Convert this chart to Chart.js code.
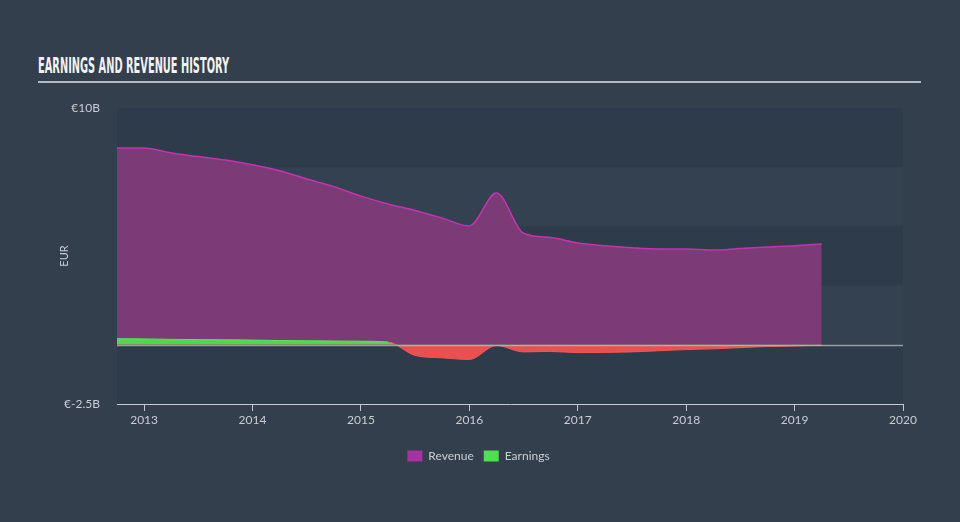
<!DOCTYPE html>
<html>
<head>
<meta charset="utf-8">
<script src="https://cdn.jsdelivr.net/npm/chart.js@4/dist/chart.umd.min.js"></script>
<style>
  html, body { margin: 0; padding: 0; background: #343f4d; }
  #wrap { position: relative; width: 960px; height: 522px; overflow: hidden; }
  #title {
    position: absolute; left: 38px; top: 54px;
    font-family: "Liberation Sans Narrow", "DejaVu Sans Condensed", sans-serif;
    font-weight: bold; font-size: 21px; color: #f2f2f2; white-space: nowrap;
    transform-origin: left top; letter-spacing: 0;
  }
  #rule { position: absolute; left: 38px; top: 81px; width: 883px; height: 2px; background: #b4b8c0; }
  canvas { position: absolute; left: 0; top: 0; }
</style>
</head>
<body>
<div id="wrap">
  <div id="title">EARNINGS AND REVENUE HISTORY</div>
  <div id="rule"></div>
  <canvas id="chart" width="960" height="522"></canvas>
</div>
<script>
// quarterly reporting dates (decimal years)
const dates = [2012.75, 2013, 2013.25, 2013.5, 2013.75, 2014, 2014.25, 2014.5, 2014.75,
               2015, 2015.25, 2015.5, 2015.75, 2016, 2016.25, 2016.5, 2016.75,
               2017, 2017.25, 2017.5, 2017.75, 2018, 2018.25, 2018.5, 2018.75, 2019, 2019.25];

// values in EUR billions
const revenue = [8.31, 8.31, 8.1, 7.95, 7.8, 7.6, 7.35, 7.0, 6.68,
                 6.28, 5.95, 5.67, 5.35, 5.02, 6.41, 4.71, 4.53,
                 4.3, 4.18, 4.1, 4.05, 4.05, 4.0, 4.07, 4.13, 4.18, 4.26];
const earnings = [0.26, 0.25, 0.23, 0.22, 0.21, 0.2, 0.18, 0.17, 0.16,
                  0.15, 0.12, -0.45, -0.55, -0.62, -0.03, -0.3, -0.28,
                  -0.33, -0.32, -0.3, -0.25, -0.2, -0.17, -0.12, -0.07, -0.05, -0.02];

const yearTicks = [2013, 2014, 2015, 2016, 2017, 2018, 2019, 2020];
const valueTicks = [-2.5, 10];
const bandEdges = [10, 7.5, 5, 2.5, 0, -2.5];

const swatches = ['#a8329f', '#4fe04f'];
const font = { family: 'Lato, "Open Sans", sans-serif', size: 12 };
const textColor = '#c9cdd3';

// fit the title width like the reference
const title = document.getElementById('title');
title.style.transform = 'scaleX(' + (191 / title.scrollWidth) + ')';

const bands = {
  id: 'bands',
  beforeDatasetsDraw(chart) {
    const { ctx, chartArea: a, scales: { y } } = chart;
    ctx.save();
    for (let i = 0; i < bandEdges.length - 1; i++) {
      const top = y.getPixelForValue(bandEdges[i]);
      const bot = y.getPixelForValue(bandEdges[i + 1]);
      ctx.fillStyle = i % 2 === 0 ? '#2e3b4a' : '#334150';
      ctx.fillRect(a.left, top, a.right - a.left, bot - top);
    }
    ctx.restore();
  },
  afterDatasetsDraw(chart) {
    const { ctx, chartArea: a, scales: { y } } = chart;
    const y0 = Math.round(y.getPixelForValue(0)) + 0.5;
    ctx.save();
    ctx.strokeStyle = 'rgba(190,192,196,0.75)';
    ctx.lineWidth = 1.5;
    ctx.beginPath();
    ctx.moveTo(a.left, y0);
    ctx.lineTo(a.right, y0);
    ctx.stroke();
    ctx.restore();
  }
};

new Chart(document.getElementById('chart').getContext('2d'), {
  type: 'line',
  data: {
    datasets: [{
      label: 'Revenue',
      data: dates.map((d, i) => ({ x: d, y: revenue[i] })),
      borderColor: '#c235ae',
      backgroundColor: swatches[0],
      borderWidth: 1.5,
      fill: { target: 'origin', above: '#7c3a76', below: '#7c3a76' },
      pointRadius: 0,
      cubicInterpolationMode: 'monotone',
      order: 1
    }, {
      label: 'Earnings',
      data: dates.map((d, i) => ({ x: d, y: earnings[i] })),
      borderColor: '#5ae65a',
      backgroundColor: swatches[1],
      borderWidth: 1,
      segment: {
        borderColor: ctx => (ctx.p0.parsed.y + ctx.p1.parsed.y) / 2 >= 0 ? '#5ae65a' : '#f05656'
      },
      fill: { target: 'origin', above: '#4cd94c', below: '#ea5050' },
      pointRadius: 0,
      cubicInterpolationMode: 'monotone',
      order: 0
    }]
  },
  options: {
    responsive: false,
    animation: false,
    layout: { padding: { left: 54, right: 57, top: 108, bottom: 50 } },
    scales: {
      x: {
        type: 'linear',
        min: 2012.75,
        max: 2020,
        afterBuildTicks: s => { s.ticks = yearTicks.map(v => ({ value: v })); },
        afterFit: s => { s.height = 36; },
        grid: { drawOnChartArea: false, drawTicks: true, tickLength: 7, color: '#c3c8d0' },
        border: { display: true, color: '#c3c8d0', width: 1 },
        ticks: { color: textColor, font: font, padding: 2, maxRotation: 0, callback: v => String(v) }
      },
      y: {
        min: -2.5,
        max: 10,
        afterBuildTicks: s => { s.ticks = valueTicks.map(v => ({ value: v })); },
        afterFit: s => { s.width = 63; },
        grid: { display: false },
        border: { display: false },
        ticks: { color: textColor, font: font, padding: 9, callback: v => v === 10 ? '€10B' : '€-2.5B' },
        title: { display: true, text: 'EUR', color: textColor, font: { family: font.family, size: 11 } }
      }
    },
    plugins: {
      legend: {
        position: 'bottom',
        labels: {
          color: textColor,
          font: font,
          boxWidth: 15,
          boxHeight: 11,
          padding: 10,
          sort: (a, b) => a.datasetIndex - b.datasetIndex,
          generateLabels: chart => Chart.defaults.plugins.legend.labels.generateLabels(chart)
            .map(l => Object.assign(l, { lineWidth: 0, fillStyle: swatches[l.datasetIndex], strokeStyle: swatches[l.datasetIndex] }))
        }
      },
      tooltip: { enabled: false }
    }
  },
  plugins: [bands]
});
</script>
</body>
</html>
